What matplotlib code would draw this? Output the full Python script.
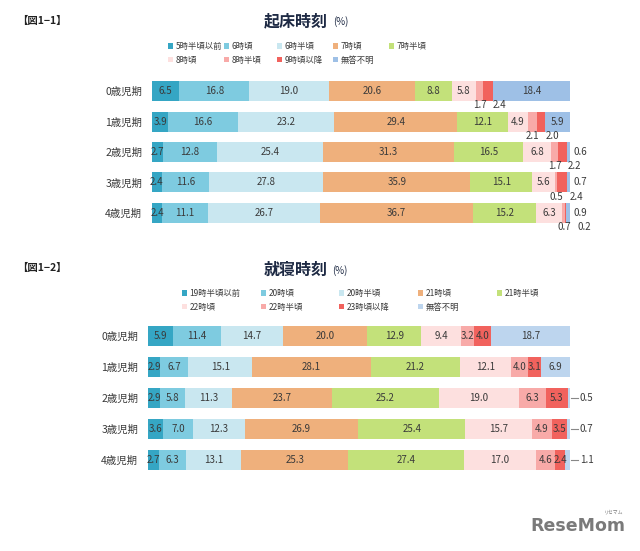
import matplotlib
matplotlib.use("Agg")
import matplotlib.pyplot as plt
import numpy as np

plt.rcParams['font.family'] = ['Noto Sans CJK JP', 'DejaVu Sans']

W, H = 640, 551

ages = ['0歳児期', '1歳児期', '2歳児期', '3歳児期', '4歳児期']

wake_cats = ['5時半頃以前', '6時頃', '6時半頃', '7時頃', '7時半頃',
             '8時頃', '8時半頃', '9時頃以降', '無答不明']
wake_vals = [
    [6.5, 16.8, 19.0, 20.6, 8.8, 5.8, 1.7, 2.4, 18.4],
    [3.9, 16.6, 23.2, 29.4, 12.1, 4.9, 2.1, 2.0, 5.9],
    [2.7, 12.8, 25.4, 31.3, 16.5, 6.8, 1.7, 2.2, 0.6],
    [2.4, 11.6, 27.8, 35.9, 15.1, 5.6, 0.5, 2.4, 0.7],
    [2.4, 11.1, 26.7, 36.7, 15.2, 6.3, 0.7, 0.2, 0.9],
]

sleep_cats = ['19時半頃以前', '20時頃', '20時半頃', '21時頃', '21時半頃',
              '22時頃', '22時半頃', '23時頃以降', '無答不明']
sleep_vals = [
    [5.9, 11.4, 14.7, 20.0, 12.9, 9.4, 3.2, 4.0, 18.7],
    [2.9, 6.7, 15.1, 28.1, 21.2, 12.1, 4.0, 3.1, 6.9],
    [2.9, 5.8, 11.3, 23.7, 25.2, 19.0, 6.3, 5.3, 0.5],
    [3.6, 7.0, 12.3, 26.9, 25.4, 15.7, 4.9, 3.5, 0.7],
    [2.7, 6.3, 13.1, 25.3, 27.4, 17.0, 4.6, 2.4, 1.1],
]

base_colors = ['#35a6c4', '#7ecbe0', '#c9e7f0', '#efb07c', '#c3e17a',
               '#fde0df', '#f8aaa8', '#f1625d']
wake_colors = base_colors + ['#9ec0e6']
sleep_colors = base_colors + ['#bdd5ee']

txt_color = '#3a3a3a'


def px_axes(left, top, right, bottom):
    return fig.add_axes([left / W, 1 - bottom / H, (right - left) / W, (bottom - top) / H])


def draw(ax, vals, cats, colors, below_idx, leader):
    vals = np.array(vals)
    widths = vals / vals.sum(axis=1, keepdims=True) * 100
    lefts = np.cumsum(widths, axis=1) - widths
    y = np.arange(len(ages))
    handles = []
    for j, cat in enumerate(cats):
        b = ax.barh(y, widths[:, j], left=lefts[:, j], height=0.66,
                    color=colors[j], label=cat, linewidth=0)
        handles.append(b)
    for i in range(len(ages)):
        prev_x = None
        for j in range(len(cats)):
            v = vals[i, j]
            cx = lefts[i, j] + widths[i, j] / 2
            if j in below_idx:
                # 小さい値はバーの下に並べる
                x = cx if prev_x is None else max(cx, prev_x + 4.8)
                prev_x = x
                ax.text(x, i + 0.47, f'{v:.1f}', ha='center', va='center',
                        fontsize=7, color=txt_color, clip_on=False)
            elif j == len(cats) - 1 and v < 2:
                if leader:
                    ax.plot([100.3, 101.8], [i, i], color='#888888', lw=0.8,
                            clip_on=False)
                    ax.text(102.3, i, f'{v:.1f}', ha='left', va='center',
                            fontsize=7, color=txt_color, clip_on=False)
                else:
                    ax.text(100.8, i, f'{v:.1f}', ha='left', va='center',
                            fontsize=7, color=txt_color, clip_on=False)
            else:
                ax.text(cx, i, f'{v:.1f}', ha='center', va='center',
                        fontsize=7, color=txt_color)
    ax.set_xlim(0, 100)
    ax.set_ylim(len(ages) - 0.5, -0.5)
    ax.set_yticks(y)
    ax.set_yticklabels(ages, fontsize=7.5, color=txt_color)
    ax.tick_params(axis='y', length=0, pad=7)
    ax.set_xticks([])
    for s in ax.spines.values():
        s.set_visible(False)
    return handles


def legend(handles, xs, y_top):
    for k, x in enumerate(xs):
        hs = [handles[k]]
        if k + 5 < len(handles):
            hs.append(handles[k + 5])
        fig.legend(handles=hs, loc='upper left',
                   bbox_to_anchor=(x / W, 1 - y_top / H), frameon=False,
                   fontsize=6, handlelength=0.6, handleheight=0.6,
                   handletextpad=0.3, borderpad=0, borderaxespad=0,
                   labelspacing=0.55, labelcolor=txt_color)


fig = plt.figure(figsize=(W / 100, H / 100), dpi=100)
fig.patch.set_facecolor('white')

# 起床時刻
ax1 = px_axes(152, 76, 570, 228)
h1 = draw(ax1, wake_vals, wake_cats, wake_colors, below_idx=(6, 7), leader=False)
legend(h1, [168, 224, 277, 333, 389], 42)
fig.text(17 / W, 1 - 21 / H, '【図1−1】', fontsize=7.5, fontweight='bold',
         color='#222222', va='center')
fig.text(328 / W, 1 - 21 / H, '起床時刻', fontsize=11.5, fontweight='bold',
         color='#1e2a44', va='center', ha='right')
fig.text(333 / W, 1 - 22 / H, '(%)', fontsize=7, color='#1e2a44', va='center')

# 就寝時刻
ax2 = px_axes(148, 320.5, 570, 475.5)
h2 = draw(ax2, sleep_vals, sleep_cats, sleep_colors, below_idx=(), leader=True)
legend(h2, [182, 261, 339, 418, 497], 289)
fig.text(17 / W, 1 - 268 / H, '【図1−2】', fontsize=7.5, fontweight='bold',
         color='#222222', va='center')
fig.text(328 / W, 1 - 270 / H, '就寝時刻', fontsize=11.5, fontweight='bold',
         color='#1e2a44', va='center', ha='right')
fig.text(332 / W, 1 - 271 / H, '(%)', fontsize=7, color='#1e2a44', va='center')

# ロゴ
fig.text(530 / W, 1 - 526 / H, 'ReseMom', fontsize=12.5, fontweight='bold',
         color='#7a7a7a', va='center', family='DejaVu Sans')
fig.text(604 / W, 1 - 512 / H, 'リセマム', fontsize=3.5, color='#7a7a7a',
         va='center')

fig.savefig('out.png', dpi=100, facecolor='white')
